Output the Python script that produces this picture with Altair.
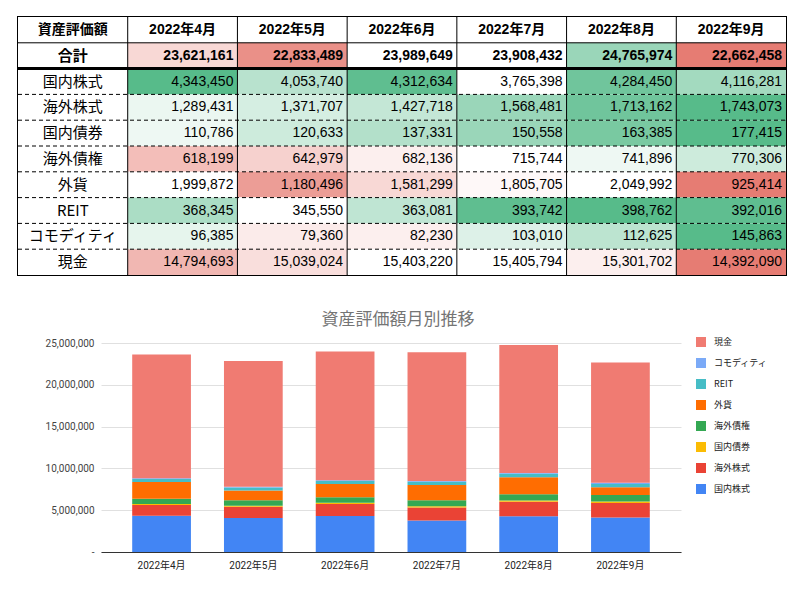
import altair as alt
import pandas as pd

# ---------------- data ----------------
months = ["2022年4月", "2022年5月", "2022年6月", "2022年7月", "2022年8月", "2022年9月"]
categories = ["国内株式", "海外株式", "国内債券", "海外債権", "外貨", "REIT", "コモディティ", "現金"]

kokunai_kabu = [4343450, 4053740, 4312634, 3765398, 4284450, 4116281]
kaigai_kabu = [1289431, 1371707, 1427718, 1568481, 1713162, 1743073]
kokunai_saiken = [110786, 120633, 137331, 150558, 163385, 177415]
kaigai_saiken = [618199, 642979, 682136, 715744, 741896, 770306]
gaika = [1999872, 1180496, 1581299, 1805705, 2049992, 925414]
reit = [368345, 345550, 363081, 393742, 398762, 392016]
commodity = [96385, 79360, 82230, 103010, 112625, 145863]
genkin = [14794693, 15039024, 15403220, 15405794, 15301702, 14392090]
totals = [23621161, 22833489, 23989649, 23908432, 24765974, 22662458]

# conditional-format level of each cell (-1 red .. 0 white .. 1 green)
heat_total = [-0.3, -0.85, 0.0, 0.0, 0.6, -1.0]
heat_kokunai_kabu = [1.0, 0.42, 0.95, 0.0, 0.85, 0.55]
heat_kaigai_kabu = [0.12, 0.25, 0.35, 0.6, 0.85, 1.0]
heat_kokunai_saiken = [0.1, 0.3, 0.45, 0.6, 0.8, 1.0]
heat_kaigai_saiken = [-0.5, -0.35, -0.12, 0.0, 0.1, 0.3]
heat_gaika = [0.0, -0.75, -0.3, -0.05, 0.0, -1.0]
heat_reit = [0.5, 0.0, 0.38, 0.95, 1.0, 0.95]
heat_commodity = [0.15, -0.15, -0.12, 0.2, 0.4, 1.0]
heat_genkin = [-0.55, -0.25, 0.0, 0.0, -0.12, -1.0]

series = [kokunai_kabu, kaigai_kabu, kokunai_saiken, kaigai_saiken, gaika, reit, commodity, genkin]
heats = [heat_kokunai_kabu, heat_kaigai_kabu, heat_kokunai_saiken, heat_kaigai_saiken,
         heat_gaika, heat_reit, heat_commodity, heat_genkin]

palette = ["#4285f4", "#ea4335", "#fbbc04", "#34a853", "#ff6d01", "#46bdc6", "#7baaf7", "#f07b72"]

# ---------------- table ----------------
head_key = "資産評価額"
col_keys = [head_key] + months
row_keys = [head_key, "合計"] + categories

recs = []
for c in col_keys:
    recs.append(dict(row=head_key, col=c, label=c, value=None, heat=0.0, kind="head"))
recs.append(dict(row="合計", col=head_key, label="合計", value=None, heat=0.0, kind="total_label"))
for m, v, h in zip(months, totals, heat_total):
    recs.append(dict(row="合計", col=m, label="", value=v, heat=h, kind="total_num"))
for cat, vals, hs in zip(categories, series, heats):
    recs.append(dict(row=cat, col=head_key, label=cat, value=None, heat=0.0, kind="label"))
    for m, v, h in zip(months, vals, hs):
        recs.append(dict(row=cat, col=m, label="", value=v, heat=h, kind="num"))
table_df = pd.DataFrame(recs)

TW, TH = 768, 258
xs = alt.Scale(domain=col_keys, paddingInner=0, paddingOuter=0)
ys = alt.Scale(domain=row_keys, paddingInner=0, paddingOuter=0)
jp = "Noto Sans CJK JP"
num_font = "Liberation Sans, Noto Sans CJK JP"

base = alt.Chart(table_df)
X = alt.X("col:N", scale=xs, axis=None)
Y = alt.Y("row:N", scale=ys, axis=None)
Xr = alt.X("col:N", scale=xs, axis=None, bandPosition=1)

cells = base.mark_rect().encode(
    x=X, y=Y,
    fill=alt.Fill("heat:Q",
                  scale=alt.Scale(type="linear", domain=[-1, 0, 1],
                                  range=["#e67c73", "#ffffff", "#57bb8a"], interpolate="rgb"),
                  legend=None),
)
head_text = base.transform_filter("datum.kind == 'head'").mark_text(
    font=num_font, fontSize=14, fontWeight="bold", color="black"
).encode(x=X, y=Y, text="label:N")
total_label = base.transform_filter("datum.kind == 'total_label'").mark_text(
    font=jp, fontSize=15, fontWeight="bold", color="black"
).encode(x=X, y=Y, text="label:N")
row_label = base.transform_filter("datum.kind == 'label'").mark_text(
    font=jp, fontSize=15, color="black"
).encode(x=X, y=Y, text="label:N")
total_num = base.transform_filter("datum.kind == 'total_num'").mark_text(
    font=num_font, fontSize=14, fontWeight="bold", color="black", align="right", dx=-4
).encode(x=Xr, y=Y, text=alt.Text("value:Q", format=","))
nums = base.transform_filter("datum.kind == 'num'").mark_text(
    font=num_font, fontSize=14, color="black", align="right", dx=-4
).encode(x=Xr, y=Y, text=alt.Text("value:Q", format=","))

vline_df = pd.DataFrame({"col": months})
vlines = alt.Chart(vline_df).mark_rule(color="black", strokeWidth=1).encode(
    x=alt.X("col:N", scale=xs, axis=None, bandPosition=0), y=alt.value(0), y2=alt.value(TH)
)
hl_solid = alt.Chart(pd.DataFrame({"row": [head_key]})).mark_rule(color="black", strokeWidth=1).encode(
    y=alt.Y("row:N", scale=ys, axis=None, bandPosition=1), x=alt.value(0), x2=alt.value(TW)
)
hl_thick = alt.Chart(pd.DataFrame({"row": ["合計"]})).mark_rule(color="black", strokeWidth=3).encode(
    y=alt.Y("row:N", scale=ys, axis=None, bandPosition=1), x=alt.value(0), x2=alt.value(TW)
)
hl_dash = alt.Chart(pd.DataFrame({"row": categories[:-1]})).mark_rule(
    color="black", strokeWidth=1, strokeDash=[4, 3]
).encode(
    y=alt.Y("row:N", scale=ys, axis=None, bandPosition=1), x=alt.value(0), x2=alt.value(TW)
)

table = alt.layer(
    cells, hl_dash, hl_solid, hl_thick, vlines, head_text, total_label, row_label, total_num, nums
).properties(width=TW, height=TH, view=alt.ViewBackground(stroke="black", strokeWidth=2))

# ---------------- stacked bar chart ----------------
brecs = []
for i, (cat, vals) in enumerate(zip(categories, series)):
    for m, v in zip(months, vals):
        brecs.append(dict(month=m, category=cat, value=v, order=i))
bar_df = pd.DataFrame(brecs)

legend_order = categories[::-1]
legend_colors = palette[::-1]

bars = alt.Chart(bar_df).mark_bar().encode(
    x=alt.X("month:N", sort=months,
            scale=alt.Scale(paddingInner=0.36, paddingOuter=0.34),
            axis=alt.Axis(title=None, labelAngle=0, labelFontSize=10, labelColor="#222222",
                          labelFont="Roboto, Noto Sans CJK JP", domainColor="#333333",
                          ticks=False, labelPadding=8)),
    y=alt.Y("value:Q", stack="zero", scale=alt.Scale(domain=[0, 25000000]),
            axis=alt.Axis(title=None, values=[0, 5000000, 10000000, 15000000, 20000000, 25000000],
                          labelExpr="datum.value == 0 ? '-' : format(datum.value, ',')",
                          domain=False, ticks=False, gridColor="#e0e0e0", labelFontSize=10,
                          labelColor="#444444", labelFont="Roboto", labelPadding=7)),
    color=alt.Color("category:N", scale=alt.Scale(domain=legend_order, range=legend_colors),
                    legend=alt.Legend(title=None, orient="none", legendX=678, legendY=-6,
                                      symbolType="square", symbolSize=100, symbolStrokeWidth=0,
                                      labelFontSize=9, labelColor="#222222",
                                      labelFont="Noto Sans CJK JP", rowPadding=11, labelOffset=8)),
    order=alt.Order("order:Q", sort="ascending"),
).properties(
    width=580, height=209,
    title=alt.TitleParams("資産評価額月別推移", fontSize=17, font="Noto Sans CJK JP",
                          fontWeight="normal", color="#757575", anchor="middle", offset=9, dx=7),
)

spacer = alt.Chart(pd.DataFrame({"a": [0]})).mark_point(opacity=0).encode(
    x=alt.value(0), y=alt.value(0)
).properties(width=1, height=1)

bottom = alt.hconcat(spacer, bars, spacing=24)

chart = alt.vconcat(table, bottom, spacing=34).properties(
    padding={"left": 7, "top": 7, "right": 0, "bottom": 0}
).resolve_scale(color="independent").configure_view(strokeWidth=0)

chart.save("out.html", embed_options={"renderer": "svg", "actions": False})
